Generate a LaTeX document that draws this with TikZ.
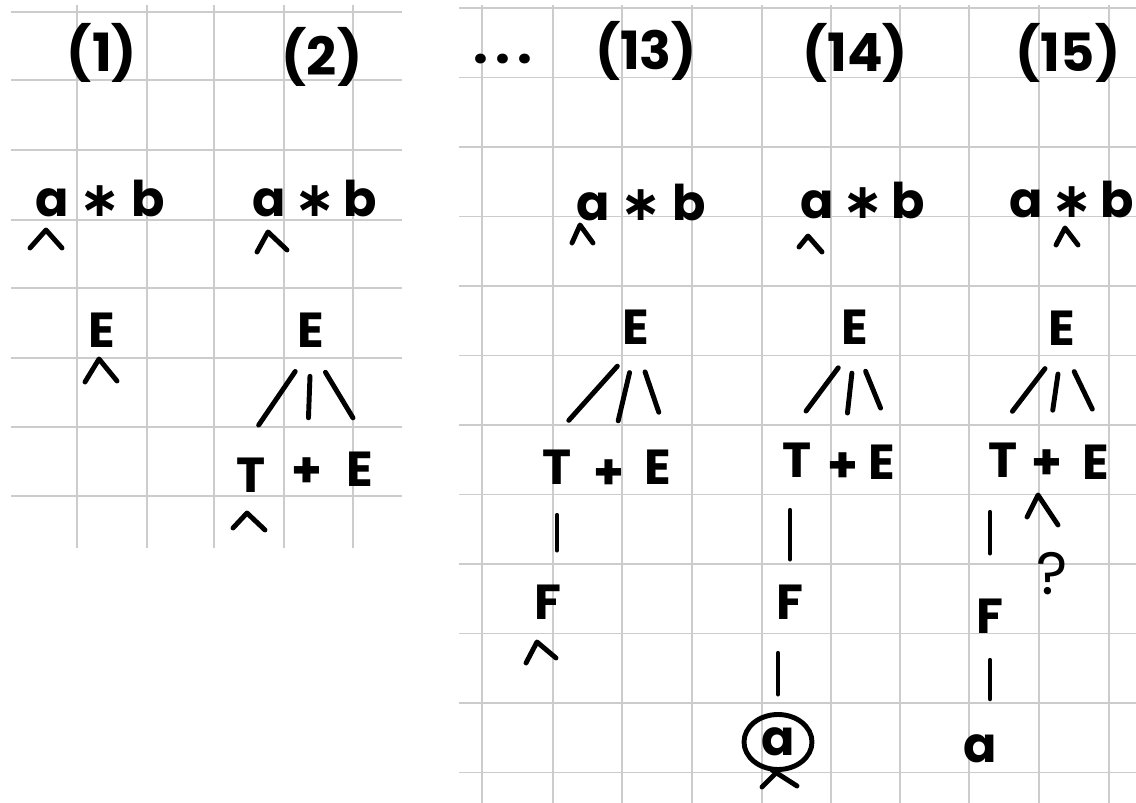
\documentclass[tikz,border=0pt]{standalone}
\usepackage{fontspec}
\setmainfont{Poppins}
\newfontfamily\symfont{DejaVu Sans}
\usetikzlibrary{shapes.geometric}

\newcommand\astsym{{\symfont\bfseries ∗}}

\tikzset{
	gridline/.style={black!20, line width=0.9pt},
	ink/.style={line width=2.8pt, line cap=round, line join=round},
	sym/.style={inner sep=0pt, anchor=base, font=\fontsize{28}{30}\selectfont\bfseries},
	head/.style={sym, font=\fontsize{30}{32}\selectfont\bfseries},
	branch/.style={ink, shorten <=0.56cm, shorten >=0.8cm},
	ring/.style={ellipse, draw, line width=2.8pt, anchor=center,
		minimum width=1.36cm, minimum height=1.1cm}
}

\begin{document}
\begin{tikzpicture}[x=0.02cm, y=-0.02cm]
	\useasboundingbox (0,0) rectangle (1136,803);
	
	% Squared paper, left sheet
	\foreach \x in {77,147,214,284,353} {
		\draw[gridline] (\x,5) -- (\x,548);
	}
	\foreach \y in {12,80,150,220,288,358,427,496} {
		\draw[gridline] (11,\y) -- (402,\y);
	}
	% Squared paper, right sheet
	\foreach \x in {482,553,622,692,762,831,900,969,1039,1109} {
		\draw[gridline] (\x,5) -- (\x,803);
	}
	\foreach \k in {0,...,11} {
		\draw[gridline] (459,8+69.5*\k) -- (1136,8+69.5*\k);
	}
	
	% Step numbers
	\node[head] (h1) at (102,72) {(1)};
	\node[head] (h2) at (322,76) {(2)};
	\node[head] (dots) at (503,64) {.\hspace{4pt}.\hspace{4pt}.};
	\node[head] (h13) at (646,70) {(13)};
	\node[head] (h14) at (855,72) {(14)};
	\node[head] (h15) at (1068,72) {(15)};
	
	% Input word
	\node[sym] (w1) at (100,217) {a \astsym{} b};
	\node[sym] (w2) at (315,217) {a\,\astsym\,b};
	\node[sym] (w13) at (641,221) {a \astsym{} b};
	\node[sym] (w14) at (863,219) {a\,\astsym\,b};
	\node[sym] (w15) at (1072,218) {a\,\astsym\,b};
	
	% Step (1)
	\node[sym] (e1) at (102,348) {E};
	\draw[ink] (30,248) -- (46,230) -- (62,248);
	\draw[ink] (85,382) -- (99,359) -- (117,381);
	
	% Step (2)
	\node[sym] (e2) at (311,348) {E};
	\node[sym] (t2) at (251,493) {T};
	\node[sym, anchor=center] (p2) at (307,473) {+};
	\node[sym] (r2) at (360,487) {E};
	\draw[branch] (e2.south) -- (t2.north west);
	\draw[branch] (e2.south) -- (p2.north);
	\draw[branch] (e2.south) -- (r2.north east);
	\draw[ink] (257,252) -- (268,232) -- (287,250);
	\draw[ink] (233,528) -- (247,513) -- (265,530);
	
	% Step (13)
	\node[sym] (e13) at (636,345) {E};
	\node[sym] (t13) at (557,485) {T};
	\node[sym, anchor=center] (p13) at (609,475) {+};
	\node[sym] (r13) at (658,485) {E};
	\node[sym] (f13) at (548,620) {F};
	\draw[branch] (e13.south) -- (t13.north west);
	\draw[branch] (e13.south) -- (p13.north);
	\draw[branch] (e13.south) -- (r13.north east);
	\draw[branch, shorten <=0.6cm, shorten >=0.7cm] (t13.south) -- (t13.south |- f13.north);
	\draw[ink] (572,243) -- (580,225) -- (593,243);
	\draw[ink] (526,663) -- (537,642) -- (556,658);
	
	% Step (14)
	\node[sym] (e14) at (855,345) {E};
	\node[sym] (t14) at (797,478) {T};
	\node[sym, anchor=center] (p14) at (843,468) {+};
	\node[sym] (r14) at (882,480) {E};
	\node[sym] (f14) at (790,620) {F};
	\node[sym, ring] (a14) at (778,742) {a};
	\draw[branch] (e14.south) -- (t14.north west);
	\draw[branch] (e14.south) -- (p14.north);
	\draw[branch] (e14.south) -- (r14.north east);
	\draw[branch, shorten <=0.64cm, shorten >=0.52cm] (t14.south -| f14.north) -- (f14.north);
	\draw[branch, shorten <=0.66cm, shorten >=0.36cm] (a14.north |- f14.south) -- (a14.north);
	\draw[ink] (799,247) -- (808,236) -- (822,252);
	\draw[ink] (762,787) -- (779,770);
	\draw[ink] (772,770) -- (797,786);
	
	% Step (15)
	\node[sym] (e15) at (1062,346) {E};
	\node[sym] (t15) at (1003,478) {T};
	\node[sym, anchor=center] (p15) at (1047,465) {+};
	\node[sym] (r15) at (1096,480) {E};
	\node[sym] (f15) at (990,633) {F};
	\node[sym] (a15) at (980,762) {a};
	\node[sym, font=\fontsize{34}{36}\selectfont] (q15) at (1052,595) {?};
	\draw[branch] (e15.south) -- (t15.north west);
	\draw[branch] (e15.south) -- (p15.north);
	\draw[branch] (e15.south) -- (r15.north east);
	\draw[branch, shorten <=0.68cm, shorten >=0.9cm] (t15.south -| f15.north) -- (f15.north);
	\draw[branch, shorten <=0.54cm, shorten >=0.7cm] (f15.south) -- (f15.south |- a15.north);
	\draw[ink] (1056,245) -- (1065,228) -- (1078,245);
	\draw[ink] (1027,517) -- (1038,495) -- (1058,525);
\end{tikzpicture}
\end{document}
